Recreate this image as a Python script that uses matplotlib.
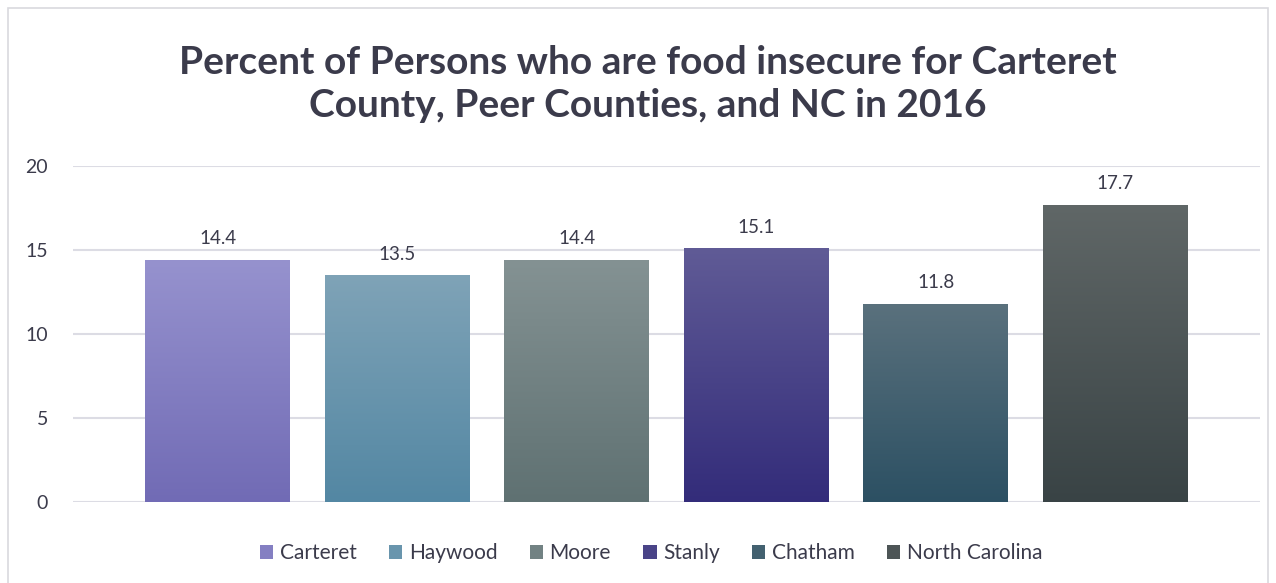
import matplotlib
matplotlib.use("Agg")
import matplotlib.pyplot as plt
import numpy as np
from matplotlib.colors import LinearSegmentedColormap
from matplotlib.patches import Rectangle, Patch

categories = ["Carteret", "Haywood", "Moore", "Stanly", "Chatham", "North Carolina"]
values = [14.4, 13.5, 14.4, 15.1, 11.8, 17.7]
yticks = [0, 5, 10, 15, 20]
title = "Percent of Persons who are food insecure for Carteret\nCounty, Peer Counties, and NC in 2016"

top_colors = ["#9692ce", "#7fa3b7", "#849293", "#605b96", "#5a717d", "#606767"]
bot_colors = ["#716bb5", "#5387a3", "#5f7172", "#332c7a", "#2c5063", "#394345"]

plt.rcParams['font.family'] = ['Lato', 'DejaVu Sans']
text_color = "#3b3b4b"

fig = plt.figure(figsize=(12.76, 5.83), dpi=100)
fig.patches.append(Rectangle((8/1276, -0.01), (1268-8)/1276, 1 - 8/583 + 0.01,
                             transform=fig.transFigure, fill=False,
                             edgecolor="#d9d9de", linewidth=1.2))
ax = fig.add_axes([73/1276, 81/583, 1187/1276, 336/583])

x = np.arange(len(categories))
width = 0.807
bars = ax.bar(x, values, width=width, color="none", edgecolor="none", zorder=3)
for i, b in enumerate(bars):
    cmap = LinearSegmentedColormap.from_list("g%d" % i, [bot_colors[i], top_colors[i]])
    grad = np.linspace(0, 1, 256).reshape(-1, 1)
    im = ax.imshow(grad, cmap=cmap, origin="lower", aspect="auto",
                   extent=[b.get_x(), b.get_x() + b.get_width(), 0, b.get_height()],
                   zorder=3)
    im.set_clip_path(b)
    ax.text(b.get_x() + b.get_width() / 2, b.get_height() + 0.75, f"{values[i]:.1f}",
            ha="center", va="bottom", fontsize=13.5, color=text_color, zorder=4)

ax.set_xlim(-0.805, 5.805)
ax.set_ylim(0, 20)
ax.set_yticks(yticks)
ax.set_xticks([])
ax.yaxis.grid(True, color="#dcdce4", linewidth=1.5, zorder=0)
ax.set_axisbelow(True)
for s in ax.spines.values():
    s.set_visible(False)
ax.tick_params(axis="y", length=0, pad=18, labelsize=14, labelcolor=text_color)

fig.text(648/1276, 1 - 84/583, title, ha="center", va="center", fontsize=28,
         fontweight="bold", color=text_color, linespacing=1.3)

handles = [Patch(facecolor=(np.array(matplotlib.colors.to_rgb(t)) + np.array(matplotlib.colors.to_rgb(bc))) / 2,
                 edgecolor="none") for t, bc in zip(top_colors, bot_colors)]
fig.legend(handles, categories, loc="center", bbox_to_anchor=(651/1276, 1 - 553/583),
           ncol=6, frameon=False, fontsize=15, handlelength=0.65, handleheight=0.65,
           handletextpad=0.3, columnspacing=1.55, labelcolor=text_color)

fig.savefig("out.png", dpi=100)
